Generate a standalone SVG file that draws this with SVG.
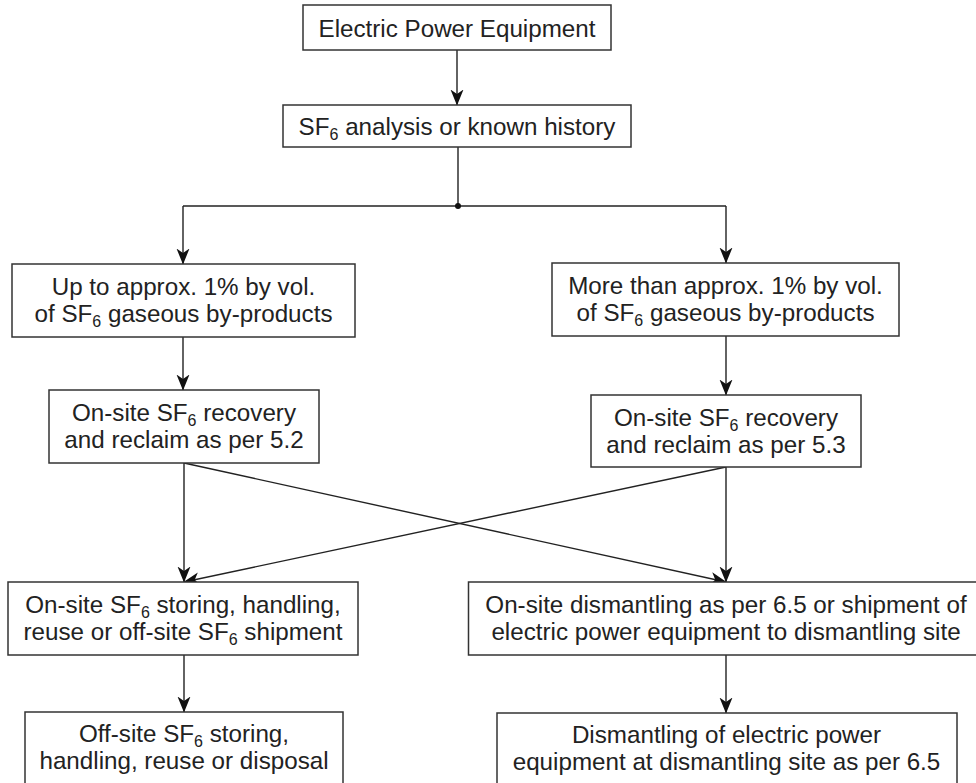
<svg xmlns="http://www.w3.org/2000/svg" width="976" height="783" viewBox="0 0 976 783">
  <style>
    .box { fill: #ffffff; stroke: #333333; stroke-width: 1.5; }
    .lbl { font-family: "Liberation Sans", Arial, Helvetica, sans-serif; font-size: 24.2px; fill: #222222; text-anchor: middle; }
    .sub { font-size: 16px; }
    .edge { fill: none; stroke: #222222; stroke-width: 1.4; }
  </style>
  <defs>
    <marker id="arrow" markerUnits="userSpaceOnUse" viewBox="0 0 16 16" markerWidth="16" markerHeight="16" refX="15.5" refY="8" orient="auto">
      <path d="M0,1.5 L16,8 L0,14.5 L4.5,8 Z" fill="#111111"/>
    </marker>
  </defs>
  <rect width="976" height="783" fill="#ffffff"/>

  <!-- connectors -->
  <g id="connectors">
    <line class="edge" x1="457" y1="50" x2="457" y2="105" marker-end="url(#arrow)"/>
    <polyline class="edge" points="458,147 458,206"/>
    <line class="edge" x1="183" y1="206" x2="726" y2="206"/>
    <circle cx="458" cy="206" r="3" fill="#111111"/>
    <line class="edge" x1="183" y1="206" x2="183" y2="264" marker-end="url(#arrow)"/>
    <line class="edge" x1="726" y1="206" x2="726" y2="263" marker-end="url(#arrow)"/>
    <line class="edge" x1="183" y1="337" x2="183" y2="390" marker-end="url(#arrow)"/>
    <line class="edge" x1="726" y1="336" x2="726" y2="395" marker-end="url(#arrow)"/>
    <line class="edge" x1="184" y1="463" x2="184" y2="582" marker-end="url(#arrow)"/>
    <line class="edge" x1="184" y1="463" x2="726" y2="582" marker-end="url(#arrow)"/>
    <line class="edge" x1="726" y1="467" x2="726" y2="582" marker-end="url(#arrow)"/>
    <line class="edge" x1="726" y1="467" x2="184" y2="582" marker-end="url(#arrow)"/>
    <line class="edge" x1="184" y1="655" x2="184" y2="712" marker-end="url(#arrow)"/>
    <line class="edge" x1="726" y1="655" x2="726" y2="713" marker-end="url(#arrow)"/>
  </g>

  <g id="equipment">
    <rect class="box" x="303" y="5" width="308" height="45"/>
    <text class="lbl" x="457" y="37">Electric Power Equipment</text>
  </g>

  <g id="analysis">
    <rect class="box" x="283" y="105" width="348" height="42"/>
    <text class="lbl" x="457" y="135">SF<tspan class="sub" dy="5">6</tspan><tspan dy="-5"> analysis or known history</tspan></text>
  </g>

  <g id="low-byproducts">
    <rect class="box" x="12" y="264" width="343" height="73"/>
    <text class="lbl"><tspan x="183.5" y="295">Up to approx. 1% by vol.</tspan><tspan x="183.5" y="322">of SF<tspan class="sub" dy="5">6</tspan><tspan dy="-5"> gaseous by-products</tspan></tspan></text>
  </g>

  <g id="high-byproducts">
    <rect class="box" x="552" y="263" width="347" height="73"/>
    <text class="lbl"><tspan x="725.5" y="294">More than approx. 1% by vol.</tspan><tspan x="725.5" y="321">of SF<tspan class="sub" dy="5">6</tspan><tspan dy="-5"> gaseous by-products</tspan></tspan></text>
  </g>

  <g id="recovery-52">
    <rect class="box" x="49" y="390" width="270" height="73"/>
    <text class="lbl"><tspan x="184" y="421">On-site SF<tspan class="sub" dy="5">6</tspan><tspan dy="-5"> recovery</tspan></tspan><tspan x="184" y="448">and reclaim as per 5.2</tspan></text>
  </g>

  <g id="recovery-53">
    <rect class="box" x="591" y="395" width="270" height="72"/>
    <text class="lbl"><tspan x="726" y="426">On-site SF<tspan class="sub" dy="5">6</tspan><tspan dy="-5"> recovery</tspan></tspan><tspan x="726" y="453">and reclaim as per 5.3</tspan></text>
  </g>

  <g id="onsite-storing">
    <rect class="box" x="8" y="582" width="350" height="73"/>
    <text class="lbl"><tspan x="183" y="613">On-site SF<tspan class="sub" dy="5">6</tspan><tspan dy="-5"> storing, handling,</tspan></tspan><tspan x="183" y="640">reuse or off-site SF<tspan class="sub" dy="5">6</tspan><tspan dy="-5"> shipment</tspan></tspan></text>
  </g>

  <g id="onsite-dismantling">
    <rect class="box" x="468.5" y="582" width="515" height="73"/>
    <text class="lbl"><tspan x="726" y="613">On-site dismantling as per 6.5 or shipment of</tspan><tspan x="726" y="640">electric power equipment to dismantling site</tspan></text>
  </g>

  <g id="offsite-storing">
    <rect class="box" x="25" y="712" width="318" height="73"/>
    <text class="lbl"><tspan x="184" y="742">Off-site SF<tspan class="sub" dy="5">6</tspan><tspan dy="-5"> storing,</tspan></tspan><tspan x="184" y="769">handling, reuse or disposal</tspan></text>
  </g>

  <g id="dismantling-site">
    <rect class="box" x="497" y="713" width="460" height="73"/>
    <text class="lbl"><tspan x="726.5" y="743">Dismantling of electric power</tspan><tspan x="726.5" y="770">equipment at dismantling site as per 6.5</tspan></text>
  </g>
</svg>
